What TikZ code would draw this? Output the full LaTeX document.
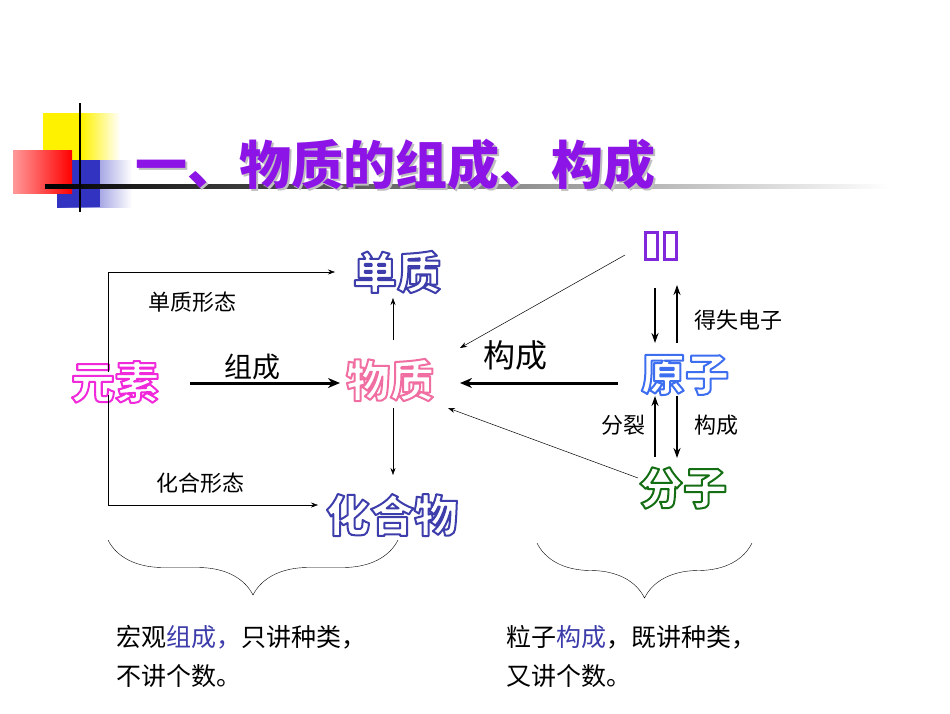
\documentclass[tikz,border=0pt]{standalone}
\usepackage{fontspec}
\newfontfamily\cjk{Noto Sans CJK SC}
\usetikzlibrary{arrows.meta,decorations.pathreplacing}
\definecolor{ttl}{RGB}{140,20,230}
\definecolor{dz}{RGB}{60,60,170}
\definecolor{lz}{RGB}{130,40,220}
\newcommand{\outl}[2]{{\color{white}\special{pdf:literal direct q 2 Tr 2 w 1 J 1 j}\special{pdf:literal direct #1 RG}#2\special{pdf:literal direct Q}}}
\newcommand{\ttlfont}{\cjk\bfseries\fontsize{52}{56}\selectfont}
\begin{document}
\begin{tikzpicture}[x=1pt,y=-1pt,
 big/.style={font=\cjk\bfseries\fontsize{44}{48}\selectfont,inner sep=0},
 lab/.style={font=\cjk\fontsize{22}{26}\selectfont,inner sep=0},
 low/.style={font=\cjk\fontsize{25}{30}\selectfont,inner sep=0,anchor=west},
 thin/.style={-{Stealth[length=7pt,width=5pt]},line width=0.5pt},
 thick/.style={-{Stealth[length=12pt,width=10pt]},line width=3pt},
 varr/.style={-{Stealth[length=10pt,width=7pt]},line width=2pt},
 brc/.style={decorate,decoration={brace,mirror,amplitude=55pt,aspect=0.5}}]
\useasboundingbox (0,0) rectangle (950,713);
% decoration
\shade[left color=yellow!90!orange, right color=white, middle color=yellow!90!orange] (43,113) rectangle (120,176);
\shade[left color=blue!70!black!80, right color=white] (57,160) rectangle (132,207);
\fill[blue!70!black!80] (57,160) rectangle (100,207);
\shade[left color=white!60!red, right color=red] (13,150) rectangle (72,193);
\shade[left color=black, right color=white] (45,184) rectangle (890,188);
\draw[line width=2pt] (80,103) -- (80,212);
\node[font=\ttlfont,text=gray!50,anchor=west,inner sep=0] (shadow) at (137,167) {一、物质的组成、构成};
\node[font=\ttlfont,text=ttl,anchor=west,inner sep=0] (title) at (135,165) {一、物质的组成、构成};
% nodes
\node[big] (dz) at (397,272) {\outl{0.24 0.24 0.67}{单质}};
\node[big] (wz) at (390,380) {\outl{0.94 0.43 0.63}{物质}};
\node[big] (hhw) at (392,515) {\outl{0.24 0.24 0.67}{化合物}};
\node[big] (ys) at (115,382) {\outl{0.94 0.16 0.86}{元素}};
\node[big] (yz) at (685,375) {\outl{0.24 0.43 0.94}{原子}};
\node[big] (fz) at (683,488) {\outl{0.08 0.43 0.08}{分子}};
\node[minimum width=36pt,minimum height=30pt,inner sep=0] (lz) at (660,245) {};
\draw[lz,line width=3pt] (645,232) rectangle (657,259) (664,232) rectangle (676,259);
% labels
\node[lab] at (192,302) {单质形态};
\node[lab,font=\cjk\fontsize{28}{32}\selectfont] at (252,367) {组成};
\node[lab] at (200,483) {化合形态};
\node[lab,font=\cjk\fontsize{32}{36}\selectfont] at (515,355) {构成};
\node[lab] at (738,320) {得失电子};
\node[lab] at (623,425) {分裂};
\node[lab] at (716,425) {构成};
% connectors
\draw[thin] (108,372) -- (108,272) -- (335,272);
\draw[thin] (108,395) -- (108,505) -- (318,505);
\draw[thick] (190,383) -- (340,383);
\draw[thick] (618,383) -- (460,383);
\draw[thin] (393,340) -- (393,298);
\draw[thin] (393,408) -- (393,475);
\draw[thin] (625,255) -- (460,348);
\draw[thin] (638,478) -- (448,408);
\draw[varr] (655,288) -- (655,343);
\draw[varr] (677,343) -- (677,285);
\draw[varr] (655,457) -- (655,396);
\draw[varr] (677,396) -- (677,458);
% braces
\draw[brc] (108,540) -- (398,540);
\draw[brc] (537,543) -- (752,543);
% bottom text
\node[low] (t1) at (116,637) {宏观\textcolor{dz}{组成，}只讲种类，};
\node[low] (t2) at (116,676) {不讲个数。};
\node[low] (t3) at (506,637) {粒子\textcolor{dz}{构成}，既讲种类，};
\node[low] (t4) at (506,676) {又讲个数。};
\end{tikzpicture}
\end{document}
